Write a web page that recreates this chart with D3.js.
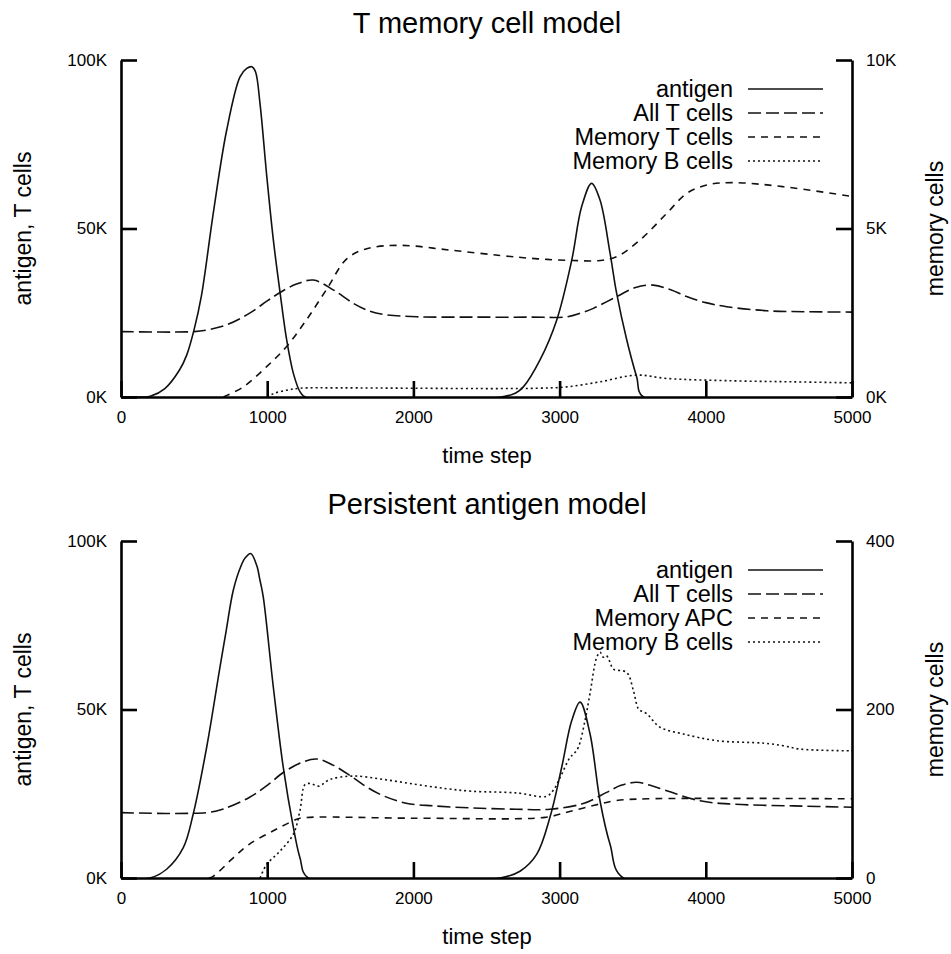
<!DOCTYPE html>
<html>
<head>
<meta charset="utf-8">
<script src="https://cdn.jsdelivr.net/npm/d3@7"></script>
<style>
  body { margin: 0; background: #fff; }
  text { font-family: "Liberation Sans", Arial, sans-serif; fill: #000; }
</style>
</head>
<body>
<div id="chart"></div>
<script>
// time ticks shared by both panels
const timeTicks = [0, 1000, 2000, 3000, 4000, 5000];

// ---- top panel: T memory cell model ----
const topTitle = "T memory cell model";
const topLeftTicks = [0, 50000, 100000];
const topLeftLabels = ["0K", "50K", "100K"];
const topRightTicks = [0, 5000, 10000];
const topRightLabels = ["0K", "5K", "10K"];
const topNames = ["antigen", "All T cells", "Memory T cells", "Memory B cells"];

const topAntigen = [[0,0],[150,0],[200,200],[300,2500],[400,8000],[450,12500],[500,20000],[550,30000],[631,54500],[722,79000],[814,95000],[860,97500],[896,98000],[920,96500],[951,87000],[996,66000],[1042,46600],[1088,31000],[1133,17000],[1179,7000],[1224,1600],[1260,0],[2600,0],[2700,1200],[2752,3000],[2866,11000],[2980,22800],[3083,40600],[3151,56500],[3219,63400],[3276,58500],[3345,42700],[3390,30800],[3459,17000],[3527,6000],[3573,0],[5000,0]];
const topAllT = [[0,19400],[500,19400],[600,20000],[722,21400],[877,24800],[1000,28500],[1088,31000],[1200,33500],[1316,34700],[1452,31800],[1589,27800],[1700,25500],[1794,24500],[2022,23800],[2400,23700],[2800,23700],[3049,23800],[3150,25000],[3231,26300],[3390,29800],[3520,32500],[3641,33200],[3760,31800],[3869,29800],[4000,28000],[4143,26800],[4417,25600],[4700,25300],[5000,25200]];
const topMemT = [[700,0],[837,300],[996,900],[1133,1500],[1270,2300],[1407,3200],[1544,4100],[1681,4400],[1908,4500],[2250,4360],[2592,4200],[2850,4100],[3094,4050],[3276,4050],[3390,4160],[3550,4660],[3733,5450],[3869,6040],[4006,6290],[4188,6360],[4530,6240],[5000,5950]];
const topMemB = [[1000,0],[1042,100],[1130,200],[1224,260],[1500,270],[2000,260],[2592,250],[2850,260],[3049,300],[3276,450],[3527,650],[3733,550],[4188,480],[4600,450],[5000,420]];

// ---- bottom panel: Persistent antigen model ----
const botTitle = "Persistent antigen model";
const botLeftTicks = [0, 50000, 100000];
const botLeftLabels = ["0K", "50K", "100K"];
const botRightTicks = [0, 200, 400];
const botRightLabels = ["0", "200", "400"];
const botNames = ["antigen", "All T cells", "Memory APC", "Memory B cells"];

const botAntigen = [[0,0],[198,0],[312,2600],[426,9000],[494,19000],[586,38800],[677,62600],[720,73500],[768,85400],[820,92500],[850,95000],[887,96300],[928,92800],[950,88500],[973,83400],[1042,56600],[1110,32800],[1179,15000],[1224,6000],[1281,0],[2592,0],[2729,2000],[2843,7000],[2934,18000],[3014,32800],[3083,46700],[3140,52200],[3208,42800],[3276,23000],[3345,10000],[3436,0],[5000,0]];
const botAllT = [[0,19400],[586,19400],[700,20500],[877,23900],[1000,27500],[1110,31300],[1230,34200],[1339,35300],[1450,33500],[1567,30400],[1680,27000],[1794,24400],[1950,22200],[2136,21400],[2400,20800],[2706,20400],[2934,20400],[3162,22100],[3322,25400],[3420,27500],[3527,28400],[3620,27500],[3733,25900],[3961,22900],[4188,21900],[4600,21400],[5000,21000]];
const botMemAPC = [[600,0],[631,2],[768,24],[877,40],[1042,56],[1179,68],[1224,71],[2000,71],[2900,72],[3049,78],[3231,86],[3390,92],[3600,94],[5000,94]];
const botMemB = [[951,0],[996,16],[1088,32],[1179,52],[1224,80],[1259,111],[1300,112],[1350,109],[1430,117],[1589,121],[1794,117],[2022,111],[2227,106],[2400,103],[2706,101],[2911,97],[2960,105],[3003,119],[3071,143],[3100,148],[3128,155],[3174,187],[3208,219],[3254,262],[3277,268],[3299,262],[3320,264],[3345,256],[3367,248],[3459,244],[3504,223],[3538,201],[3560,198],[3596,195],[3687,179],[3846,171],[4075,163],[4400,160],[4530,157],[4644,153],[5000,151]];

// line styles: solid, long dash, medium dash, dotted
const dashes = [null, "13,5", "7,6", "2,3"];

const W = 951, H = 954;
const svg = d3.select("#chart").append("svg")
    .attr("width", W)
    .attr("height", H);

const drawPanel = (opts) => {
    const left = 121, right = 852;
    const top = opts.top, bottom = opts.top + 337;

    const x = d3.scaleLinear().domain([0, 5000]).range([left, right]);
    const yL = d3.scaleLinear().domain([0, 100000]).range([bottom, top]);
    const yR = d3.scaleLinear().domain([0, opts.rightMax]).range([bottom, top]);

    // title
    svg.append("text")
        .attr("x", 487).attr("y", top - 27)
        .attr("text-anchor", "middle")
        .style("font-size", "29px")
        .text(opts.title);

    // lines, clipped to the plot area
    const clipId = "clip" + top;
    svg.append("clipPath").attr("id", clipId)
        .append("rect")
        .attr("x", left).attr("y", top - 5)
        .attr("width", right - left).attr("height", bottom - top + 5);

    const series = [
        {data: opts.series[0], y: yL},
        {data: opts.series[1], y: yL},
        {data: opts.series[2], y: yR},
        {data: opts.series[3], y: yR}
    ];
    series.forEach((s, i) => {
        svg.append("path")
            .datum(s.data)
            .attr("clip-path", `url(#${clipId})`)
            .attr("fill", "none")
            .attr("stroke", "#111")
            .attr("stroke-width", 1.6)
            .attr("stroke-dasharray", dashes[i])
            .attr("d", d3.line()
                .curve(d3.curveCatmullRom.alpha(0.5))
                .x(d => x(d[0]))
                .y(d => s.y(d[1])));
    });

    // axes
    const styleAxis = (g) => {
        g.attr("font-family", null).attr("font-size", null);
        g.select(".domain").attr("stroke", "#000").attr("stroke-width", 2.6);
        g.selectAll(".tick line").attr("stroke", "#000").attr("stroke-width", 2.6);
        g.selectAll(".tick text").style("font-size", "17px");
    };

    svg.append("g")
        .attr("transform", `translate(0,${bottom})`)
        .call(d3.axisBottom(x).tickValues(timeTicks).tickFormat(d3.format("d"))
            .tickSize(-16).tickSizeOuter(0).tickPadding(14))
        .call(styleAxis);

    svg.append("g")
        .attr("transform", `translate(${left},0)`)
        .call(d3.axisLeft(yL).tickValues(opts.leftTicks)
            .tickFormat((d, i) => opts.leftLabels[i])
            .tickSize(-16).tickSizeOuter(0).tickPadding(14))
        .call(styleAxis);

    svg.append("g")
        .attr("transform", `translate(${right},0)`)
        .call(d3.axisRight(yR).tickValues(opts.rightTicks)
            .tickFormat((d, i) => opts.rightLabels[i])
            .tickSize(-16).tickSizeOuter(0).tickPadding(14))
        .call(styleAxis);

    // axis titles
    svg.append("text")
        .attr("x", 487).attr("y", bottom + 66)
        .attr("text-anchor", "middle")
        .style("font-size", "22px")
        .text("time step");

    svg.append("text")
        .attr("transform", `translate(31,${(top + bottom) / 2}) rotate(-90)`)
        .attr("text-anchor", "middle")
        .style("font-size", "23px")
        .text("antigen, T cells");

    svg.append("text")
        .attr("transform", `translate(943,${(top + bottom) / 2}) rotate(-90)`)
        .attr("text-anchor", "middle")
        .style("font-size", "23px")
        .text("memory cells");

    // legend
    opts.names.forEach((name, i) => {
        const ly = top + 29 + i * 24;
        svg.append("text")
            .attr("x", 733).attr("y", ly)
            .attr("dy", "0.35em")
            .attr("text-anchor", "end")
            .style("font-size", "23.5px")
            .text(name);
        svg.append("line")
            .attr("x1", 748).attr("x2", 823)
            .attr("y1", ly).attr("y2", ly)
            .attr("stroke", "#111")
            .attr("stroke-width", 1.6)
            .attr("stroke-dasharray", dashes[i]);
    });
};

drawPanel({
    top: 60,
    title: topTitle,
    rightMax: 10000,
    leftTicks: topLeftTicks, leftLabels: topLeftLabels,
    rightTicks: topRightTicks, rightLabels: topRightLabels,
    names: topNames,
    series: [topAntigen, topAllT, topMemT, topMemB]
});

drawPanel({
    top: 541,
    title: botTitle,
    rightMax: 400,
    leftTicks: botLeftTicks, leftLabels: botLeftLabels,
    rightTicks: botRightTicks, rightLabels: botRightLabels,
    names: botNames,
    series: [botAntigen, botAllT, botMemAPC, botMemB]
});
</script>
</body>
</html>
